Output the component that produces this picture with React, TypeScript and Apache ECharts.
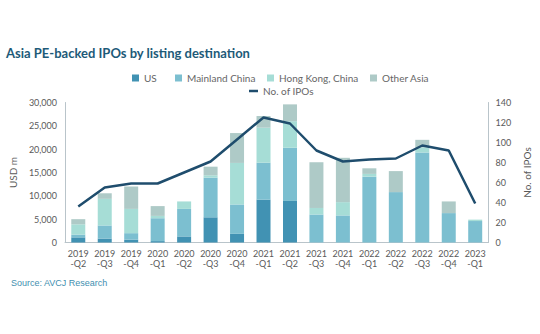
import React, { useEffect, useRef } from "react";
import * as echarts from "echarts";

const categories = [
  "2019-Q2", "2019-Q3", "2019-Q4", "2020-Q1", "2020-Q2", "2020-Q3", "2020-Q4",
  "2021-Q1", "2021-Q2", "2021-Q3", "2021-Q4", "2022-Q1", "2022-Q2", "2022-Q3",
  "2022-Q4", "2023-Q1",
];
const us = [1100, 850, 600, 300, 1300, 5400, 1850, 9200, 8900, 0, 0, 0, 0, 0, 0, 0];
const mainland = [600, 2800, 1400, 4900, 5900, 8500, 6300, 7900, 11400, 6000, 5800, 14100, 10800, 19300, 6300, 4600];
const hongKong = [2200, 5700, 5200, 500, 1600, 500, 8900, 7500, 5700, 1400, 2850, 600, 0, 1100, 0, 300];
const otherAsia = [1100, 1200, 4800, 2100, 0, 1850, 6400, 2500, 3600, 9800, 9500, 1200, 4500, 1600, 2500, 0];
const ipoCount = [36, 55, 59, 59, 70, 81, 103, 125, 119, 92, 81, 83, 84, 97, 92, 39];

const FONT = "Lato";
const TXT = "#5a5a5a";

export default function App() {
  const ref = useRef<HTMLDivElement>(null);
  useEffect(() => {
    document.body.style.margin = "0";
    if (!ref.current) return;
    const chart = echarts.init(ref.current, undefined, { renderer: "svg" });
    const legendBase = {
      orient: "horizontal",
      padding: 0,
      itemWidth: 7,
      itemHeight: 7,
      icon: "rect",
      textStyle: { color: "#666", fontSize: 10, fontFamily: FONT },
      itemGap: 0,
    };
    chart.setOption({
      animation: false,
      title: {
        text: "Asia PE-backed IPOs by listing destination",
        left: 1,
        top: 41,
        textStyle: { color: "#1d5a78", fontSize: 13, fontWeight: "bold", fontFamily: FONT },
      },
      legend: [
        { ...legendBase, left: 132, top: 73, data: ["US"] },
        { ...legendBase, left: 175, top: 73, data: ["Mainland China"] },
        { ...legendBase, left: 267, top: 73, data: ["Hong Kong, China"] },
        { ...legendBase, left: 370, top: 73, data: ["Other Asia"] },
        { ...legendBase, left: 249, top: 86, itemWidth: 9, itemHeight: 2.5, data: ["No. of IPOs"] },
      ],
      grid: { left: 53, right: 37, top: 102.5, bottom: 91.5 },
      xAxis: {
        type: "category",
        data: categories,
        axisTick: { show: false },
        axisLine: { lineStyle: { color: "#b9c4ca", width: 1 } },
        axisLabel: {
          color: TXT,
          fontSize: 9,
          fontFamily: FONT,
          lineHeight: 10,
          margin: 6,
          interval: 0,
          formatter: (v: string) => v.replace("-", "\n-"),
        },
      },
      yAxis: [
        {
          type: "value",
          min: 0,
          max: 30000,
          interval: 5000,
          name: "USD m",
          nameLocation: "middle",
          nameGap: 38,
          nameTextStyle: { color: TXT, fontSize: 10, fontFamily: FONT },
          splitLine: { show: false },
          axisLine: { show: true, lineStyle: { color: "#b9c4ca" } },
          axisTick: { show: false },
          axisLabel: {
            color: TXT,
            fontSize: 9,
            fontFamily: FONT,
            margin: 8,
            formatter: (v: number) => v.toLocaleString("en-US"),
          },
        },
        {
          type: "value",
          min: 0,
          max: 140,
          interval: 20,
          position: "right",
          name: "No. of IPOs",
          nameLocation: "middle",
          nameGap: 29,
          nameRotate: 90,
          nameTextStyle: { color: TXT, fontSize: 10, fontFamily: FONT },
          splitLine: { show: false },
          axisLine: { show: true, lineStyle: { color: "#b9c4ca" } },
          axisTick: { show: false },
          axisLabel: { color: TXT, fontSize: 9, fontFamily: FONT, margin: 7 },
        },
      ],
      series: [
        { name: "US", type: "bar", stack: "t", data: us, barWidth: 14, itemStyle: { color: "#4192b3" } },
        { name: "Mainland China", type: "bar", stack: "t", data: mainland, itemStyle: { color: "#7cbfd0" } },
        { name: "Hong Kong, China", type: "bar", stack: "t", data: hongKong, itemStyle: { color: "#a6ddd6" } },
        { name: "Other Asia", type: "bar", stack: "t", data: otherAsia, itemStyle: { color: "#aecac7" } },
        {
          name: "No. of IPOs",
          type: "line",
          yAxisIndex: 1,
          data: ipoCount,
          symbol: "none",
          lineStyle: { color: "#1f4d6d", width: 2.5 },
          itemStyle: { color: "#1f4d6d" },
        },
      ],
      graphic: [
        {
          type: "text",
          left: 11,
          top: 278,
          style: { text: "Source: AVCJ Research", fill: "#3f8fb0", fontSize: 9, fontFamily: "Liberation Sans" },
        },
      ],
    });
    return () => chart.dispose();
  }, []);
  return <div ref={ref} style={{ width: 540, height: 334 }} />;
}
